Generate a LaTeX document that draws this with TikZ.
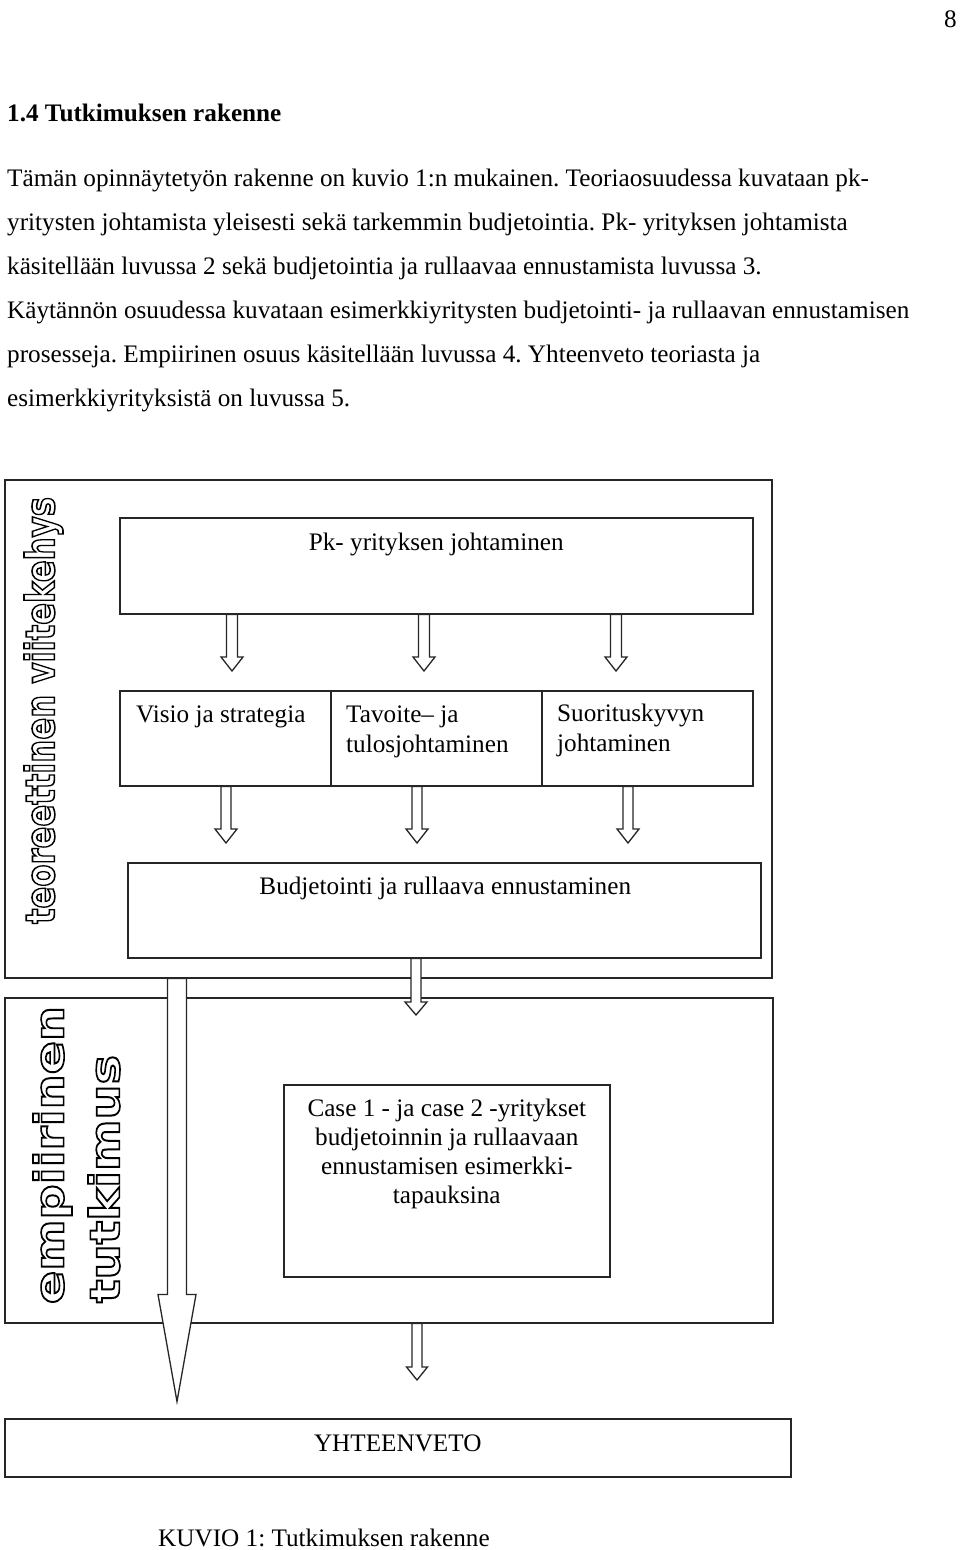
\documentclass[tikz,border=0pt]{standalone}
\usepackage{fontspec}
\setmainfont{Liberation Serif}
\newfontfamily\vfont{DejaVu Sans}
\usetikzlibrary{calc}
\frenchspacing
\newcommand{\fs}{\fontsize{25.2pt}{30pt}\selectfont\frenchspacing}
\newcommand{\outl}[1]{\special{pdf:literal direct 1 Tr 1 w}#1\special{pdf:literal direct 0 Tr}}
\newcommand{\hollowarrow}[5]{%
  \draw[harrow] let \p1=(#1), \p2=(#2) in
    (\x1-#3,\y1) -- (\x1-#3,\y2+#5) -- (\x1-#4,\y2+#5) -- (\x1,\y2)
    -- (\x1+#4,\y2+#5) -- (\x1+#3,\y2+#5) -- (\x1+#3,\y1) -- cycle;}
\begin{document}
\begin{tikzpicture}[x=1pt,y=-1pt,font=\fs,
  box/.style={draw=black!85, line width=1.5pt, fill=white, inner sep=0pt, anchor=north west, rectangle},
  txt/.style={inner sep=0pt},
  harrow/.style={draw=black!85, line width=1.3pt, fill=white, line join=miter}]
\useasboundingbox[fill=white] (0,0) rectangle (960,1550);

% page text
\node[txt, anchor=base east] (pg) at (957,27) {8};
\node[txt, anchor=base west, font=\fs\bfseries] (hd) at (7,121) {1.4 Tutkimuksen rakenne};
\node[txt, anchor=base west] (l1) at (7,186) {Tämän opinnäytetyön rakenne on kuvio 1:n mukainen. Teoriaosuudessa kuvataan pk-};
\node[txt, anchor=base west] (l2) at (7,230) {yritysten johtamista yleisesti sekä tarkemmin budjetointia. Pk- yrityksen johtamista};
\node[txt, anchor=base west] (l3) at (7,274) {käsitellään luvussa 2 sekä budjetointia ja rullaavaa ennustamista luvussa 3.};
\node[txt, anchor=base west] (l4) at (7,318) {Käytännön osuudessa kuvataan esimerkkiyritysten budjetointi- ja rullaavan ennustamisen};
\node[txt, anchor=base west] (l5) at (7,362) {prosesseja. Empiirinen osuus käsitellään luvussa 4. Yhteenveto teoriasta ja};
\node[txt, anchor=base west] (l6) at (7,406) {esimerkkiyrityksistä on luvussa 5.};

% frames
\node[box, minimum width=767pt, minimum height=498pt] (f1) at (4,479) {};
\node[box, minimum width=768pt, minimum height=325pt] (f2) at (4,997) {};

% vertical outlined labels
\node[txt, rotate=90] (vt1) at (43.5,710.5) {\resizebox*{427pt}{39pt}{\vfont\bfseries\outl{teoreettinen viitekehys}}};
\node[txt, rotate=90] (vt2) at (52.5,1155) {\resizebox*{298pt}{39pt}{\vfont\bfseries\outl{empiirinen}}};
\node[txt, rotate=90] (vt3) at (104,1179) {\resizebox*{248pt}{32pt}{\vfont\bfseries\outl{tutkimus}}};

% boxes
\node[box, minimum width=633pt, minimum height=96pt] (pk) at (119,517) {};
\node[box, minimum width=211pt, minimum height=95pt] (vis) at (119,690) {};
\node[box, minimum width=211pt, minimum height=95pt] (tav) at (330,690) {};
\node[box, minimum width=211pt, minimum height=95pt] (suo) at (541,690) {};
\node[box, minimum width=633pt, minimum height=95pt] (bud) at (127,862) {};
\node[box, minimum width=326pt, minimum height=192pt] (case) at (283,1084) {};
\node[box, minimum width=786pt, minimum height=58pt] (yht) at (4,1418) {};

% box texts
\node[txt, anchor=base] (pkt) at ($(pk.north)+(0,33)$) {Pk- yrityksen johtaminen};
\node[txt, anchor=base west] (vist) at ($(vis.north west)+(17,32)$) {Visio ja strategia};
\node[txt, anchor=base west] (tavt1) at ($(tav.north west)+(16,32)$) {Tavoite– ja};
\node[txt, anchor=base west] (tavt2) at ($(tav.north west)+(16,62)$) {tulosjohtaminen};
\node[txt, anchor=base west] (suot1) at ($(suo.north west)+(16,31)$) {Suorituskyvyn};
\node[txt, anchor=base west] (suot2) at ($(suo.north west)+(16,61)$) {johtaminen};
\node[txt, anchor=base] (budt) at ($(bud.north)+(1,32)$) {Budjetointi ja rullaava ennustaminen};
\node[txt, anchor=base] (case1) at ($(case.north)+(0,32)$) {Case 1 - ja case 2 -yritykset};
\node[txt, anchor=base] (case2) at ($(case.north)+(0,61)$) {budjetoinnin ja rullaavaan};
\node[txt, anchor=base] (case3) at ($(case.north)+(0,90)$) {ennustamisen esimerkki-};
\node[txt, anchor=base] (case4) at ($(case.north)+(0,119)$) {tapauksina};
\node[txt, anchor=base] (yhtt) at ($(yht.north)+(0,33)$) {YHTEENVETO};
\node[txt, anchor=base west] (cap) at (158,1546) {KUVIO 1: Tutkimuksen rakenne};

% arrow coordinates
\coordinate (a1s) at ($(pk.south west)+(113,0)$);
\coordinate (a1t) at ($(vis.north west)+(113,-19)$);
\coordinate (a2s) at ($(pk.south west)+(305,0)$);
\coordinate (a2t) at ($(tav.north west)+(94,-19)$);
\coordinate (a3s) at ($(pk.south west)+(497,0)$);
\coordinate (a3t) at ($(suo.north west)+(75,-19)$);
\coordinate (b1s) at ($(vis.south west)+(107,0)$);
\coordinate (b1t) at ($(bud.north west)+(99,-19)$);
\coordinate (b2s) at ($(tav.south west)+(87,0)$);
\coordinate (b2t) at ($(bud.north west)+(290,-19)$);
\coordinate (b3s) at ($(suo.south west)+(87,0)$);
\coordinate (b3t) at ($(bud.north west)+(501,-19)$);
\coordinate (cs) at ($(bud.south west)+(289,0)$);
\coordinate (ct) at ($(f2.north west)+(412,18)$);
\coordinate (ds) at ($(f2.south west)+(413,0)$);
\coordinate (dt) at ($(yht.north west)+(413,-38)$);
\coordinate (bigs) at ($(f1.south west)+(173,0)$);
\coordinate (bigt) at ($(f2.south west)+(173,78)$);

% arrows
\hollowarrow{a1s}{a1t}{5.5pt}{11pt}{14pt}
\hollowarrow{a2s}{a2t}{5.5pt}{11pt}{14pt}
\hollowarrow{a3s}{a3t}{5.5pt}{11pt}{14pt}
\hollowarrow{b1s}{b1t}{5pt}{11pt}{14pt}
\hollowarrow{b2s}{b2t}{5pt}{11pt}{14pt}
\hollowarrow{b3s}{b3t}{5pt}{11pt}{14pt}
\hollowarrow{cs}{ct}{5pt}{11pt}{13pt}
\hollowarrow{ds}{dt}{5pt}{10.5pt}{13pt}
\hollowarrow{bigs}{bigt}{9.5pt}{19pt}{107pt}
\end{tikzpicture}
\end{document}
